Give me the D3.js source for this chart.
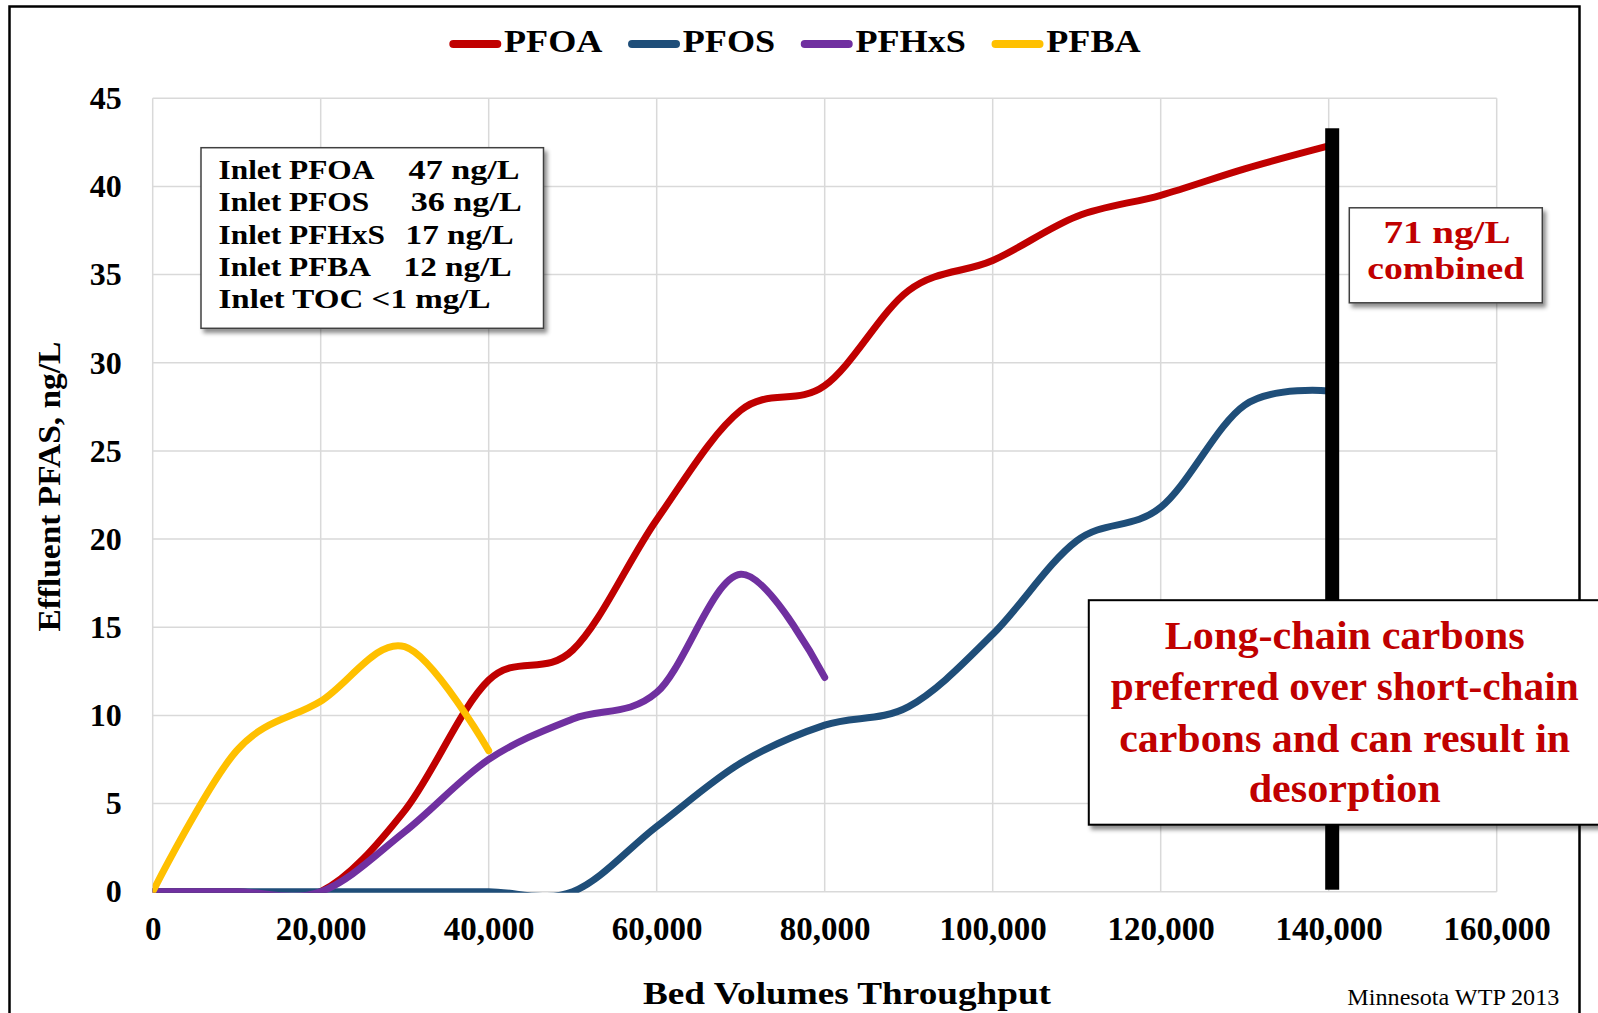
<!DOCTYPE html>
<html><head><meta charset="utf-8">
<script src="https://cdn.jsdelivr.net/npm/d3@7"></script>
<style>body{margin:0;background:#fff;} svg{display:block;}</style>
</head><body>
<svg id="chart" width="1598" height="1013"></svg>
<script>
// ---------- data ----------
const bedVolumes = [0,10000,20000,30000,40000,50000,60000,70000,80000,90000,100000,110000,120000,130000,140000];
const pfoa  = [0,0,0,4.6,12.0,13.7,21.1,27.3,28.7,34.1,35.8,38.3,39.5,41.0,42.3];
const pfos  = [0,0,0,0,0,0,3.7,7.3,9.45,10.5,14.6,19.9,21.8,27.6,28.4];
const pfhxs = [0,0,0,3.4,7.5,9.8,11.3,18.0,12.15];
const pfba  = [0,8.0,10.8,13.9,8.0];
const seriesNames  = ["PFOA","PFOS","PFHxS","PFBA"];
const seriesColors = ["#C00000","#1F4E79","#7030A0","#FFC000"];
const xTicks = [0,20000,40000,60000,80000,100000,120000,140000,160000];
const yTicks = [0,5,10,15,20,25,30,35,40,45];
const inletLabels = ["Inlet PFOA","Inlet PFOS","Inlet PFHxS","Inlet PFBA"];
const inletValues = ["47 ng/L","36 ng/L","17 ng/L","12 ng/L"];
const tocLine = "Inlet TOC <1 mg/L";
const combinedLines = ["71 ng/L","combined"];
const noteLines = ["Long-chain carbons","preferred over short-chain","carbons and can result in","desorption"];
const xTitle = "Bed Volumes Throughput";
const yTitle = "Effluent PFAS, ng/L";
const sourceNote = "Minnesota WTP 2013";
const cutoffVolume = 140000;

// ---------- setup ----------
const FONT = "'Liberation Serif', 'Times New Roman', serif";
const svg = d3.select("#chart");
const X0 = 152.7, X1 = 1496.7, Y0 = 891.7, Y1 = 98.3;
const x = d3.scaleLinear().domain([0,160000]).range([X0,X1]);
const y = d3.scaleLinear().domain([0,45]).range([Y0,Y1]);

const defs = svg.append("defs");
const f = defs.append("filter").attr("id","shadow").attr("x","-10%").attr("y","-10%").attr("width","130%").attr("height","140%");
f.append("feDropShadow").attr("dx",3).attr("dy",4).attr("stdDeviation",2.2).attr("flood-color","#000").attr("flood-opacity",0.45);
defs.append("clipPath").attr("id","plotclip").append("rect")
  .attr("x",X0).attr("y",Y1-20).attr("width",X1-X0+20).attr("height",Y0-Y1+21);

function stretch(sel,k){ sel.each(function(){ const w=this.getComputedTextLength(); d3.select(this).attr("textLength",w*k).attr("lengthAdjust","spacingAndGlyphs"); }); }
function fit(sel,w){ sel.attr("textLength",w).attr("lengthAdjust","spacingAndGlyphs"); }

// outer frame
svg.append("rect").attr("x",9.5).attr("y",6.5).attr("width",1570).attr("height",1100)
  .attr("fill","none").attr("stroke","#000").attr("stroke-width",2.5);

// gridlines
const grid = svg.append("g").attr("stroke","#D9D9D9").attr("stroke-width",1.5);
grid.selectAll("line.h").data(yTicks).join("line").attr("class","h")
  .attr("x1",X0).attr("x2",X1).attr("y1",d=>y(d)).attr("y2",d=>y(d));
grid.selectAll("line.v").data(xTicks).join("line").attr("class","v")
  .attr("y1",Y1).attr("y2",Y0).attr("x1",d=>x(d)).attr("x2",d=>x(d));

// axes
const ya = svg.append("g").attr("transform",`translate(${X0},0)`)
  .call(d3.axisLeft(y).tickValues(yTicks).tickSize(0).tickPadding(31));
ya.select(".domain").remove();
ya.selectAll("text").attr("font-family",FONT).attr("font-weight","bold").attr("font-size",32).attr("fill","#000");

const xa = svg.append("g").attr("transform",`translate(0,${Y0})`)
  .call(d3.axisBottom(x).tickValues(xTicks).tickSize(0).tickPadding(25).tickFormat(d3.format(",")));
xa.select(".domain").remove();
xa.selectAll("text").attr("font-family",FONT).attr("font-weight","bold").attr("font-size",33).attr("fill","#000");

// series
const seriesData = [pfoa,pfos,pfhxs,pfba].map(v => v.map((d,i)=>[bedVolumes[i],d]));
const line = d3.line().x(d=>x(d[0])).y(d=>y(d[1])).curve(d3.curveCardinal.tension(0));
svg.append("g").attr("clip-path","url(#plotclip)")
  .selectAll("path").data(seriesData).join("path")
  .attr("d",line).attr("fill","none").attr("stroke",(d,i)=>seriesColors[i])
  .attr("stroke-width",7).attr("stroke-linecap","round").attr("stroke-linejoin","round");

// cutoff bar
svg.append("rect").attr("x",x(cutoffVolume)-3.5).attr("width",14)
  .attr("y",y(43.3)).attr("height",y(0)-2-y(43.3)).attr("fill","#000");

// legend
let cursor = 449.3;
const lg = svg.append("g");
seriesNames.forEach((n,i)=>{
  lg.append("line").attr("x1",cursor+4).attr("x2",cursor+48).attr("y1",44).attr("y2",44)
    .attr("stroke",seriesColors[i]).attr("stroke-width",8).attr("stroke-linecap","round");
  const t = lg.append("text").attr("x",cursor+54.7).attr("y",52.3).text(n)
    .attr("font-family",FONT).attr("font-weight","bold").attr("font-size",32);
  const w = t.node().getComputedTextLength()*1.13;
  fit(t,w);
  cursor = cursor+54.7+w+25.6;
});

// inlet box
svg.append("rect").attr("x",201).attr("y",147.7).attr("width",342.5).attr("height",180.6)
  .attr("fill","#fff").attr("stroke","#404040").attr("stroke-width",1.5).attr("filter","url(#shadow)");
const ib = svg.append("g").attr("font-family",FONT).attr("font-weight","bold").attr("font-size",28).attr("fill","#000");
const valX = [408.6,410.7,405.6,403.6], valW = [111,111,108,108];
inletLabels.forEach((l,i)=>{
  const by = 179.3 + i*32.1;
  stretch(ib.append("text").attr("x",218.5).attr("y",by).text(l),1.12);
  fit(ib.append("text").attr("x",valX[i]).attr("y",by).text(inletValues[i]),valW[i]);
});
fit(ib.append("text").attr("x",218.5).attr("y",179.3+4*32.1).text(tocLine),272);

// combined box
svg.append("rect").attr("x",1349.3).attr("y",207.8).attr("width",193).attr("height",95)
  .attr("fill","#fff").attr("stroke","#404040").attr("stroke-width",1.5).attr("filter","url(#shadow)");
const cb = svg.append("g").attr("font-family",FONT).attr("font-weight","bold").attr("font-size",32)
  .attr("fill","#C00000").attr("text-anchor","middle");
fit(cb.append("text").attr("x",1447).attr("y",243.3).text(combinedLines[0]),127);
fit(cb.append("text").attr("x",1445.7).attr("y",279).text(combinedLines[1]),157);

// long-chain note box
svg.append("rect").attr("x",1088.8).attr("y",600.2).attr("width",530).attr("height",224.5)
  .attr("fill","#fff").attr("stroke","#000").attr("stroke-width",2).attr("filter","url(#shadow)");
const nb = svg.append("g").attr("font-family",FONT).attr("font-weight","bold").attr("font-size",41)
  .attr("fill","#C00000").attr("text-anchor","middle");
const noteY = [649,699.5,751.5,802], noteW = [360,468,451,192];
noteLines.forEach((l,i)=> fit(nb.append("text").attr("x",1344.7).attr("y",noteY[i]).text(l),noteW[i]));

// titles
fit(svg.append("text").attr("x",847).attr("y",1004).attr("text-anchor","middle")
  .attr("font-family",FONT).attr("font-weight","bold").attr("font-size",31).text(xTitle),408);
fit(svg.append("text").attr("transform","translate(60,486.6) rotate(-90)").attr("text-anchor","middle")
  .attr("font-family",FONT).attr("font-weight","bold").attr("font-size",31).text(yTitle),290);
fit(svg.append("text").attr("x",1347.3).attr("y",1004.5)
  .attr("font-family",FONT).attr("font-size",22.5).text(sourceNote),212);
</script>
</body></html>
